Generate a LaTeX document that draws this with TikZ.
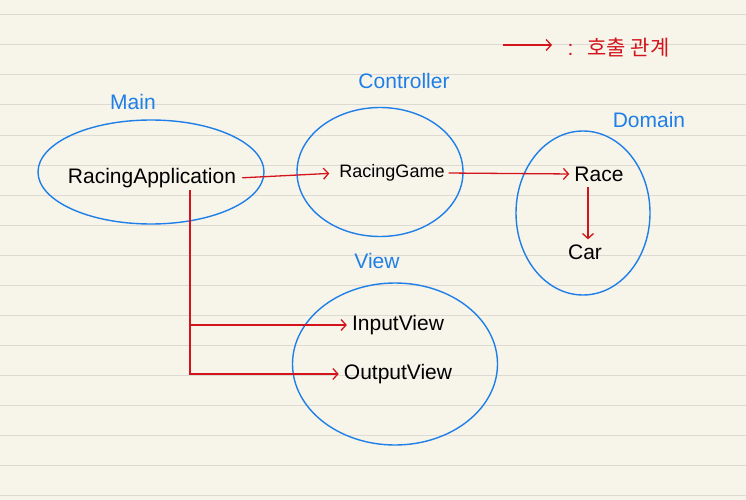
\documentclass[tikz,border=0pt]{standalone}
\usepackage{fontspec}
\setmainfont{Liberation Sans}
\newfontfamily\kr{Noto Sans CJK KR}
\usetikzlibrary{shapes.geometric,arrows.meta}
\definecolor{paper}{HTML}{F7F4E9}
\definecolor{rulecol}{HTML}{DCDAD3}
\definecolor{pen}{HTML}{1E7FE8}
\definecolor{ink}{HTML}{D4141C}
\begin{document}
\begin{tikzpicture}[x=1pt,y=-1pt,
  grp/.style={ellipse,draw=pen,line width=1.4pt,inner sep=0pt},
  txt/.style={font=\fontsize{21}{23}\selectfont,text=black,inner sep=2pt},
  lbl/.style={font=\fontsize{21}{23}\selectfont,text=pen},
  call/.style={draw=ink,line width=1.3pt,-{Straight Barb[length=5pt,width=11pt,line width=1.3pt]}}]
\fill[paper] (0,0) rectangle (746,500);
\useasboundingbox (0,0) rectangle (746,500);
\foreach \y in {15,45,...,495} \draw[rulecol,line width=1pt] (0,\y) -- (746,\y);
% groups
\node[grp,minimum width=226pt,minimum height=104pt] (mainE) at (151,172) {};
\node[grp,minimum width=166pt,minimum height=129pt] (ctrlE) at (380,172) {};
\node[grp,minimum width=134pt,minimum height=164pt] (domE) at (583,213) {};
\node[grp,minimum width=205pt,minimum height=162pt] (viewE) at (395,364) {};
% labels
\node[lbl] (mainL) at (133,102) {Main};
\node[lbl] (ctrlL) at (404,81) {Controller};
\node[lbl] (domL) at (649,120) {Domain};
\node[lbl] (viewL) at (377,261) {View};
% classes
\node[txt] (app) at (152,178) {RacingApplication};
\node[txt,font=\fontsize{18}{20}\selectfont] (game) at (392,173) {RacingGame};
\node[txt] (race) at (599,174) {Race};
\node[txt] (car) at (585,252) {Car};
\node[txt] (in) at (398,325) {InputView};
\node[txt] (out) at (398,374) {OutputView};
% calls
\draw[call,shorten <=4pt,shorten >=8pt] (app.east) -- (game.west);
\draw[call,shorten <=2pt,shorten >=3pt] (game.east) -- (race.west);
\draw[call,shorten <=3pt,shorten >=3pt] ([xshift=-11pt]race.south) -- ([xshift=3pt]car.north);
\draw[call,shorten >=3pt] ([xshift=38pt]app.south) |- (in.west);
\draw[call,shorten >=3pt] ([xshift=38pt]app.south) |- (out.west);
% legend
\coordinate (la) at (503,45);
\coordinate (lb) at (552,45);
\draw[call] (la) -- (lb);
\node[anchor=west,text=ink,font=\fontsize{21}{23}\selectfont] (leg) at (564,48) {:\hspace{14pt}\kr 호출 관계};
\end{tikzpicture}
\end{document}
